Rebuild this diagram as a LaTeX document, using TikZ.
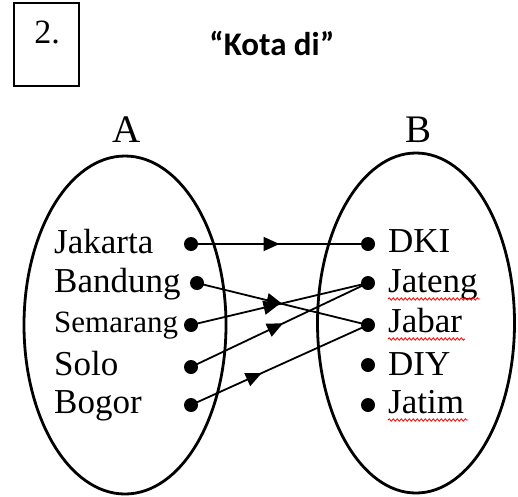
\documentclass[tikz,border=0pt]{standalone}
\usepackage{fontspec}
\setmainfont{Liberation Serif}
\newfontfamily\titlefont{Carlito}
\usetikzlibrary{shapes.geometric,arrows.meta,decorations.markings,decorations.pathmorphing}
\begin{document}
\begin{tikzpicture}[x=1pt,y=-1pt,
  setshape/.style={draw,ellipse,line width=2.8pt,inner sep=0pt},
  dot/.style={circle,fill=black,inner sep=0pt,minimum size=14pt},
  lbl/.style={anchor=base west,inner sep=0pt,font=\fontsize{35}{40}\selectfont},
  conn/.style={line width=1.8pt,postaction={decorate},
    decoration={markings,mark=at position #1 with {\arrow{Triangle[length=16pt,width=14pt]}}}},
  spell/.style={red,line width=0.8pt,decorate,decoration={snake,amplitude=1.2pt,segment length=4pt}}]
\useasboundingbox (0,0) rectangle (518,496);
% number box
\node[draw,line width=1.8pt,minimum width=65pt,minimum height=83pt,inner sep=0pt] (box) at (46.5,44.5) {};
\node[anchor=base,inner sep=0pt,font=\fontsize{34}{40}\selectfont] (num) at (47,43) {2.};
\node[anchor=base,inner sep=0pt,font=\titlefont\bfseries\fontsize{33}{40}\selectfont] (title) at (272,55) {“Kota di”};
% set labels
\node[anchor=base,inner sep=0pt,font=\fontsize{39}{44}\selectfont] (Alab) at (127,142) {A};
\node[anchor=base,inner sep=0pt,font=\fontsize{39}{44}\selectfont] (Blab) at (418,142) {B};
% ellipses
\node[setshape,minimum width=202pt,minimum height=338pt] (setA) at (125,325) {};
\node[setshape,minimum width=197pt,minimum height=340pt] (setB) at (416,323) {};
% set A
\node[lbl] (tjak) at (54,253) {Jakarta};
\node[lbl] (tban) at (54,292) {Bandung};
\node[lbl,font=\fontsize{31}{36}\selectfont] (tsem) at (54,332) {Semarang};
\node[lbl] (tsol) at (54,375) {Solo};
\node[lbl] (tbog) at (54,413) {Bogor};
\node[dot] (jak) at (191,244) {};
\node[dot] (ban) at (197,283) {};
\node[dot] (sem) at (191,325) {};
\node[dot] (sol) at (191,367) {};
\node[dot] (bog) at (191,405) {};
% set B
\node[dot] (dki) at (368,244) {};
\node[dot] (jat) at (368,283) {};
\node[dot] (jab) at (368,325) {};
\node[dot] (diy) at (368,365) {};
\node[dot] (jtm) at (368,405) {};
\node[lbl] (tdki) at (388,252) {DKI};
\node[lbl] (tjat) at (388,292) {Jateng};
\node[lbl] (tjab) at (388,332) {Jabar};
\node[lbl] (tdiy) at (388,375) {DIY};
\node[lbl] (tjtm) at (388,413) {Jatim};
% spell-check underlines
\draw[spell] (tjat.base west) ++(0,7) -- ++(92,0);
\draw[spell] (tjab.base west) ++(0,7) -- ++(77,0);
\draw[spell] (tjtm.base west) ++(0,7) -- ++(80,0);
% mapping
\draw[conn=0.5] (jak.center) -- (dki.center);
\draw[conn=0.5] (ban.center) -- (jab.center);
\draw[conn=0.5] (sem.center) -- (jat.center);
\draw[conn=0.52] (sol.center) -- (jat.center);
\draw[conn=0.4] (bog.center) -- (jab.center);
\end{tikzpicture}
\end{document}
